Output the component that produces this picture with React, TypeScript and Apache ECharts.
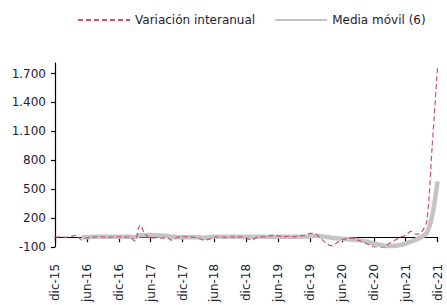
import React, { useEffect, useRef } from "react";
import * as echarts from "echarts";

const monthNames = ["ene", "feb", "mar", "abr", "may", "jun", "jul", "ago", "sep", "oct", "nov", "dic"];
// Monthly categories from dic-15 to dic-21
const categories: string[] = [];
for (let y = 2015; y <= 2021; y++) {
  for (let m = 0; m < 12; m++) {
    if (y === 2015 && m < 11) continue;
    categories.push(`${monthNames[m]}-${String(y).slice(2)}`);
  }
}

const variacion = [
  0, 5, 0, 10, 20, -30, -5, 0, 5, 5, 0, 5,
  5, 0, 5, -40, 125, 30, -10, -5, -10, -5, -30, 0,
  5, 5, 0, -10, -30, -20, 0, 5, 0, 5, 0, 5,
  -10, -30, 0, 5, 10, 20, 15, 5, 10, 5, 15, 20,
  40, 35, -10, -60, -90, -60, -25, -15, -10, -30, -50, -75,
  -100, -110, -105, -60, -30, 0, 20, 60, 30, 55, 170, 950,
  1760,
];

const mediaMovil = [
  null, null, null, null, null, 0, 0, 5, 5, 5, 5, 5,
  5, 5, 5, 0, 20, 20, 20, 20, 15, 15, 5, 0,
  0, 0, 0, 0, -5, 0, 5, 5, 5, 5, 5, 5,
  5, 5, 5, 5, 5, 5, 5, 5, 5, 5, 5, 5,
  10, 15, 10, 5, -5, -10, -15, -20, -25, -30, -38, -50,
  -65, -78, -88, -90, -88, -80, -65, -45, -25, 5, 45, 220,
  580,
];

const yTicks = [-100, 200, 500, 800, 1100, 1400, 1700];

const FONT = "DejaVu Sans";
const TEXT = "#222233";
const RED = "#c8506e";
const GRAY = "#c4c4c4";

export default function App() {
  const ref = useRef<HTMLDivElement>(null);
  useEffect(() => {
    if (!ref.current) return;
    const chart = echarts.init(ref.current, null, { renderer: "svg" });
    chart.setOption({
      animation: false,
      backgroundColor: "#ffffff",
      textStyle: { fontFamily: FONT },
      legend: {
        top: 9,
        left: 72,
        itemWidth: 52,
        itemHeight: 12,
        itemGap: 19,
        itemStyle: { color: "transparent", borderWidth: 0 },
        textStyle: { fontFamily: FONT, fontSize: 12, color: TEXT },
        data: ["Variación interanual", "Media móvil (6)"],
      },
      grid: { left: 55, right: 9.5, top: 63, bottom: 56, containLabel: false },
      xAxis: {
        type: "category",
        data: categories,
        boundaryGap: false,
        axisLine: { onZero: true, lineStyle: { color: "#000", width: 1.2 } },
        axisTick: { show: true, interval: 5, length: 5, inside: false, lineStyle: { color: "#000", width: 1.2 } },
        axisLabel: {
          interval: 5,
          rotate: 90,
          margin: 17,
          fontFamily: FONT,
          fontSize: 12,
          color: TEXT,
        },
        splitLine: { show: false },
      },
      yAxis: {
        type: "value",
        min: -100,
        max: 1810,
        axisLine: { show: true, onZero: false, lineStyle: { color: "#000", width: 1.2 } },
        axisTick: { show: true, length: 4, customValues: yTicks, lineStyle: { color: "#000", width: 1.2 } },
        axisLabel: {
          customValues: yTicks,
          margin: 9,
          fontFamily: FONT,
          fontSize: 12,
          color: TEXT,
          formatter: (v: number) => {
            const s = Math.abs(v).toString().replace(/\B(?=(\d{3})+(?!\d))/g, ".");
            return (v < 0 ? "-" : "") + s;
          },
        },
        splitLine: { show: false },
      },
      series: [
        {
          name: "Media móvil (6)",
          type: "line",
          data: mediaMovil,
          symbol: "none",
          smooth: 0.3,
          z: 2,
          lineStyle: { color: GRAY, width: 4.5 },
          itemStyle: { color: "transparent", borderWidth: 0 },
        },
        {
          name: "Variación interanual",
          type: "line",
          data: variacion,
          symbol: "none",
          smooth: 0.3,
          z: 3,
          lineStyle: { color: RED, width: 1.2, type: [5, 3] },
          itemStyle: { color: "transparent", borderWidth: 0 },
        },
      ],
    });
    return () => chart.dispose();
  }, []);
  return (
    <div
      ref={ref}
      style={{ position: "absolute", left: 0, top: 0, width: 447, height: 305 }}
    />
  );
}
